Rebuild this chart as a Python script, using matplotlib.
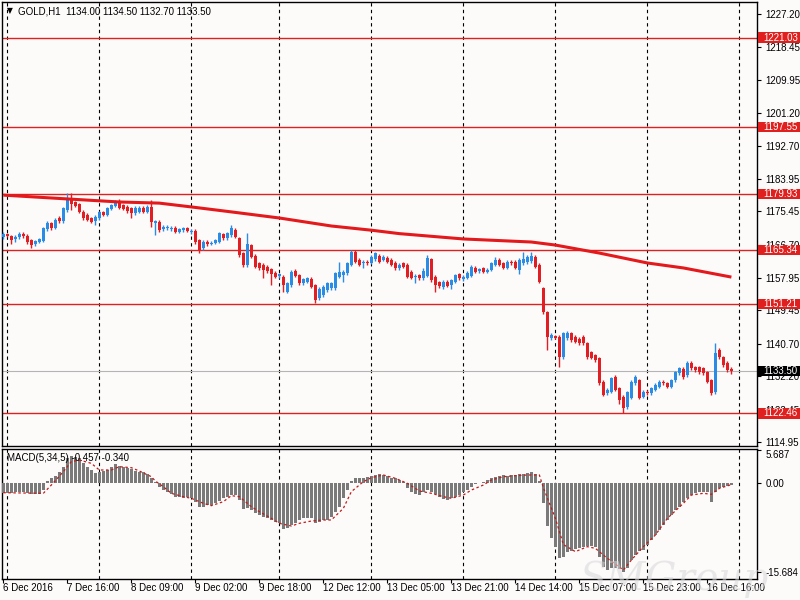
import matplotlib
matplotlib.use("Agg")
import matplotlib.pyplot as plt
import matplotlib.transforms as mtransforms
from matplotlib.patches import Rectangle
import numpy as np

plt.rcParams['font.family'] = ['Liberation Sans', 'DejaVu Sans']

# GOLD H1 candles (bar 0 = 6 Dec 23:00 ... bar 182 = 16 Dec 22:00)
opens = [
    1168.8, 1169.4, 1169.0, 1168.1, 1168.6, 1169.5, 1169.0, 1167.9, 1166.8, 1167.5,
    1167.7, 1170.7, 1172.3, 1171.0, 1173.8, 1172.9, 1175.8, 1178.9, 1177.8, 1177.3,
    1175.4, 1174.5, 1173.6, 1172.9, 1173.6, 1175.2, 1174.6, 1176.0, 1176.9, 1178.0,
    1177.1, 1176.6, 1176.2, 1174.9, 1175.4, 1176.4, 1175.4, 1176.6, 1172.3, 1172.7,
    1170.7, 1171.0, 1170.8, 1171.2, 1170.1, 1170.5, 1171.0, 1170.1, 1170.4, 1167.9,
    1165.7, 1167.5, 1166.9, 1167.2, 1167.5, 1169.4, 1168.4, 1169.2, 1170.5, 1168.4,
    1164.4, 1161.4, 1166.6, 1163.8, 1161.8, 1161.5, 1160.9, 1160.3, 1159.4, 1158.5,
    1158.3, 1154.4, 1156.1, 1159.8, 1158.7, 1156.6, 1157.0, 1157.7, 1156.1, 1152.6,
    1153.5, 1154.8, 1155.3, 1155.3, 1158.3, 1158.7, 1159.2, 1161.5, 1164.9, 1162.7,
    1161.8, 1162.2, 1162.0, 1162.9, 1163.8, 1162.7, 1163.3, 1162.7, 1162.0, 1160.5,
    1161.8, 1161.5, 1159.6, 1158.2, 1158.7, 1157.9, 1158.6, 1162.9, 1158.3, 1156.8,
    1155.7, 1157.0, 1156.1, 1157.0, 1158.9, 1157.6, 1158.0, 1158.5, 1160.6, 1159.8,
    1160.5, 1159.6, 1160.1, 1161.4, 1162.7, 1161.8, 1160.6, 1162.2, 1162.2, 1160.1,
    1161.8, 1162.1, 1162.4, 1163.6, 1161.4, 1155.3, 1149.0, 1142.2, 1142.7, 1142.5,
    1137.2, 1142.2, 1143.5, 1142.5, 1142.0, 1142.5, 1140.9, 1138.5, 1137.7, 1136.9,
    1130.7, 1127.8, 1128.1, 1132.0, 1129.1, 1126.8, 1124.1, 1126.5, 1130.4, 1131.2,
    1126.8, 1128.1, 1127.8, 1128.6, 1129.4, 1130.7, 1130.4, 1129.4, 1131.2, 1133.0,
    1134.1, 1132.5, 1135.7, 1134.6, 1134.6, 1134.3, 1133.3, 1131.2, 1128.0, 1139.1,
    1137.2, 1135.7, 1134.0]
highs = [
    1170.0, 1169.8, 1169.3, 1169.2, 1170.0, 1169.9, 1169.4, 1168.2, 1168.0, 1168.5,
    1171.4, 1172.8, 1172.7, 1173.6, 1174.2, 1176.6, 1180.2, 1180.2, 1178.2, 1177.7,
    1175.8, 1174.9, 1174.0, 1174.4, 1175.6, 1175.6, 1176.6, 1177.5, 1178.5, 1178.6,
    1177.5, 1177.0, 1176.6, 1176.8, 1176.8, 1176.8, 1177.0, 1178.4, 1173.3, 1173.1,
    1171.8, 1171.8, 1171.6, 1171.6, 1171.2, 1171.4, 1171.4, 1170.8, 1170.8, 1168.3,
    1167.9, 1167.9, 1167.6, 1168.3, 1170.1, 1169.8, 1170.1, 1171.9, 1171.0, 1168.8,
    1164.8, 1169.7, 1167.0, 1164.2, 1162.2, 1161.9, 1161.3, 1160.7, 1159.8, 1159.3,
    1158.7, 1157.0, 1160.0, 1160.2, 1159.1, 1158.0, 1158.3, 1158.1, 1156.5, 1155.6,
    1156.1, 1157.0, 1157.0, 1159.6, 1162.2, 1160.0, 1162.2, 1165.3, 1165.3, 1163.1,
    1162.6, 1162.6, 1164.0, 1164.9, 1164.2, 1164.0, 1163.7, 1163.1, 1162.4, 1161.9,
    1162.2, 1161.9, 1160.0, 1159.0, 1159.1, 1160.6, 1164.0, 1163.3, 1158.7, 1157.2,
    1157.4, 1157.4, 1157.8, 1159.1, 1159.3, 1158.7, 1159.8, 1161.3, 1161.0, 1160.6,
    1160.9, 1160.5, 1162.2, 1163.6, 1163.1, 1162.2, 1162.6, 1162.6, 1162.6, 1163.1,
    1164.9, 1164.0, 1164.7, 1164.0, 1161.8, 1155.7, 1149.4, 1143.5, 1143.1, 1142.9,
    1143.9, 1144.0, 1143.9, 1142.9, 1142.4, 1142.9, 1141.3, 1138.9, 1138.1, 1137.3,
    1131.1, 1129.0, 1132.1, 1132.4, 1129.5, 1127.2, 1128.4, 1131.1, 1132.4, 1131.6,
    1128.5, 1128.5, 1129.5, 1130.3, 1131.1, 1131.1, 1130.8, 1131.6, 1133.7, 1134.7,
    1134.5, 1136.1, 1136.1, 1135.0, 1135.0, 1134.7, 1133.7, 1131.6, 1140.9, 1139.5,
    1137.6, 1136.1, 1134.5]
lows = [
    1168.3, 1168.6, 1167.0, 1167.4, 1168.2, 1168.5, 1167.0, 1165.7, 1166.3, 1167.2,
    1167.3, 1170.3, 1170.6, 1170.7, 1172.5, 1172.5, 1175.4, 1175.8, 1176.5, 1175.0,
    1173.2, 1172.8, 1172.3, 1171.9, 1173.2, 1174.1, 1174.2, 1175.7, 1176.6, 1176.0,
    1175.7, 1175.1, 1173.6, 1174.5, 1175.0, 1175.0, 1175.0, 1171.4, 1169.2, 1170.1,
    1170.3, 1170.5, 1170.4, 1169.7, 1169.7, 1170.1, 1169.9, 1169.6, 1167.0, 1164.6,
    1165.3, 1166.4, 1166.5, 1166.8, 1167.1, 1168.0, 1168.0, 1168.8, 1168.4, 1163.6,
    1160.9, 1160.9, 1163.1, 1160.5, 1160.1, 1157.9, 1159.4, 1156.1, 1157.9, 1158.0,
    1154.4, 1154.0, 1155.7, 1158.2, 1156.2, 1156.2, 1156.6, 1155.3, 1151.3, 1152.2,
    1153.1, 1154.4, 1154.9, 1154.9, 1157.9, 1157.0, 1158.8, 1161.1, 1161.8, 1161.0,
    1160.6, 1161.4, 1161.6, 1162.5, 1161.8, 1162.3, 1161.8, 1161.0, 1160.1, 1160.1,
    1160.5, 1157.9, 1157.6, 1156.6, 1157.5, 1157.5, 1158.2, 1157.0, 1154.4, 1155.4,
    1155.1, 1155.5, 1155.1, 1156.6, 1157.5, 1157.2, 1157.6, 1158.1, 1159.2, 1159.4,
    1159.2, 1159.2, 1159.7, 1161.0, 1161.0, 1160.2, 1160.2, 1161.4, 1160.2, 1158.9,
    1161.4, 1161.7, 1162.0, 1160.5, 1156.6, 1148.6, 1139.1, 1141.7, 1141.9, 1134.6,
    1136.8, 1141.8, 1141.3, 1140.8, 1140.5, 1140.5, 1136.8, 1136.6, 1136.0, 1130.0,
    1126.9, 1127.4, 1127.7, 1128.2, 1125.0, 1122.5, 1123.7, 1126.1, 1130.0, 1126.1,
    1126.4, 1127.3, 1127.4, 1128.2, 1129.0, 1130.0, 1129.0, 1129.0, 1130.8, 1132.6,
    1131.6, 1132.1, 1133.9, 1133.4, 1132.9, 1132.6, 1130.3, 1127.4, 1127.6, 1136.8,
    1134.7, 1133.4, 1132.7]
closes = [
    1169.5, 1169.0, 1167.9, 1168.8, 1169.5, 1168.9, 1167.5, 1166.6, 1167.6, 1168.1,
    1171.0, 1172.3, 1171.0, 1173.2, 1172.9, 1176.2, 1178.4, 1177.5, 1176.9, 1175.4,
    1173.6, 1173.2, 1172.7, 1174.0, 1175.2, 1174.5, 1176.2, 1177.1, 1178.0, 1176.4,
    1176.0, 1175.5, 1174.9, 1176.4, 1176.4, 1175.4, 1176.6, 1172.7, 1172.9, 1170.5,
    1171.4, 1171.3, 1171.1, 1170.1, 1170.8, 1171.0, 1170.3, 1170.4, 1167.5, 1165.3,
    1167.5, 1166.8, 1167.2, 1167.9, 1169.7, 1168.4, 1169.7, 1171.0, 1168.8, 1164.0,
    1161.4, 1166.8, 1163.5, 1160.9, 1160.5, 1160.0, 1159.8, 1158.9, 1158.3, 1158.9,
    1156.1, 1156.6, 1159.6, 1158.6, 1156.6, 1157.6, 1157.9, 1155.7, 1152.2, 1155.2,
    1155.7, 1156.6, 1156.6, 1159.2, 1159.6, 1159.6, 1161.8, 1164.9, 1162.2, 1161.4,
    1162.2, 1161.8, 1163.6, 1164.4, 1162.2, 1163.6, 1162.2, 1161.4, 1160.5, 1161.5,
    1160.9, 1158.3, 1158.0, 1158.6, 1157.9, 1159.8, 1163.3, 1157.4, 1156.1, 1155.8,
    1157.0, 1155.9, 1157.4, 1158.7, 1157.9, 1158.3, 1159.4, 1160.9, 1159.6, 1160.2,
    1159.6, 1160.1, 1161.8, 1162.7, 1161.4, 1160.6, 1162.2, 1161.8, 1160.6, 1162.7,
    1162.9, 1163.6, 1163.8, 1160.9, 1157.0, 1149.0, 1142.5, 1143.0, 1142.3, 1137.2,
    1143.5, 1143.5, 1141.7, 1141.2, 1140.9, 1140.9, 1137.2, 1137.0, 1136.4, 1130.4,
    1127.3, 1128.6, 1131.7, 1128.6, 1126.0, 1123.9, 1128.0, 1130.7, 1132.0, 1126.5,
    1128.1, 1127.7, 1129.1, 1129.9, 1130.7, 1130.4, 1129.4, 1131.2, 1133.3, 1134.3,
    1132.0, 1135.7, 1134.3, 1133.8, 1133.3, 1133.0, 1130.7, 1127.8, 1138.3, 1137.2,
    1135.1, 1133.8, 1133.5]

# moving average (red line), read at a few bars
ma_bar = [0, 16, 29, 39, 47, 57, 69, 82, 92, 99, 115, 132, 138, 149, 161, 170, 182]
ma_val = [1179.7, 1178.7, 1177.9, 1177.6, 1176.6, 1175.3, 1173.7, 1171.6, 1170.5,
          1169.6, 1168.2, 1167.4, 1166.6, 1164.5, 1161.9, 1160.6, 1158.2]

# horizontal levels
levels = [1221.03, 1197.55, 1179.93, 1165.34, 1151.21, 1122.46]
last_price = 1133.50
price_ticks = [1227.20, 1218.45, 1209.95, 1201.20, 1192.70, 1183.95, 1175.45,
               1166.70, 1157.95, 1149.45, 1140.70, 1132.20, 1123.45, 1114.95]

# MACD(5,34,5) histogram
macd = [
    -1.76, -1.87, -1.76, -1.58, -1.58, -1.70, -1.76, -1.93, -1.99, -1.93,
    -1.29, 0.36, 0.77, 1.24, 1.94, 2.82, 4.29, 4.76, 4.59, 4.29,
    3.41, 2.82, 2.24, 1.65, 1.94, 2.06, 2.24, 2.82, 3.24, 3.00,
    2.82, 2.65, 2.41, 2.06, 1.94, 1.83, 1.47, 0.77, 0.18, -0.70,
    -1.29, -1.58, -2.05, -2.46, -2.46, -2.64, -2.46, -2.75, -3.34, -4.22,
    -4.22, -3.93, -3.93, -3.63, -3.22, -2.75, -2.46, -2.17, -2.17, -3.05,
    -4.69, -4.52, -4.81, -5.40, -5.69, -5.99, -6.28, -6.58, -6.87, -7.16,
    -8.21, -7.92, -7.45, -7.16, -6.58, -6.28, -6.28, -6.28, -7.16, -6.98,
    -6.58, -6.58, -5.99, -5.10, -4.22, -2.75, -1.29, 0.30, 0.89, 0.89,
    0.89, 0.95, 1.18, 1.36, 1.47, 1.36, 1.24, 0.89, 0.77, 0.48,
    0.18, -0.88, -1.58, -2.05, -2.17, -1.58, -1.29, -1.58, -2.05, -2.46,
    -2.93, -3.05, -2.75, -2.46, -2.17, -1.58, -1.29, -0.70, -0.29, -0.12,
    0.18, 0.48, 0.77, 1.06, 1.24, 1.36, 1.24, 1.36, 1.36, 1.47,
    1.47, 1.65, 1.83, 1.47, 0.30, -3.64, -7.57, -9.80, -11.27, -13.33,
    -13.03, -12.27, -12.04, -11.68, -11.45, -11.27, -11.15, -11.09, -11.27, -13.03,
    -14.79, -15.40, -15.09, -14.97, -15.20, -15.68, -15.09, -13.62, -12.74, -12.04,
    -11.86, -10.98, -10.10, -9.21, -8.33, -7.45, -6.57, -5.69, -4.81, -4.22,
    -3.46, -2.75, -2.17, -1.87, -1.70, -1.58, -1.70, -3.46, -1.58, -1.00,
    -0.70, -0.50, -0.457]
sig_bar = [0, 10, 12, 15, 17, 19, 22, 24, 27, 29, 32, 34, 37, 38, 40, 42, 45, 47,
           50, 52, 55, 57, 59, 62, 64, 67, 69, 72, 74, 77, 80, 82, 85, 87, 90, 92,
           95, 98, 101, 104, 107, 110, 112, 115, 117, 120, 122, 125, 128, 131, 134,
           135, 138, 140, 143, 146, 148, 151, 155, 157, 160, 163, 166, 170, 172,
           175, 177, 179, 182]
sig_val = [-1.76, -1.87, -0.41, 1.94, 3.71, 4.00, 3.41, 2.24, 2.24, 2.82, 2.65, 2.06,
           1.06, 0.30, -0.70, -1.87, -2.46, -2.75, -3.63, -4.05, -3.34, -2.28, -2.46,
           -4.22, -5.10, -6.28, -7.16, -7.63, -7.16, -6.75, -6.57, -6.57, -4.52, -1.58,
           0.18, 0.89, 1.36, 0.77, -0.11, -1.46, -1.87, -2.46, -2.75, -2.17, -1.29,
           -0.41, 0.48, 1.06, 1.24, 1.36, 1.36, -0.90, -6.28, -10.90, -12.15, -11.27,
           -11.57, -13.33, -15.38, -13.62, -11.27, -9.21, -6.28, -3.63, -2.17, -1.87,
           -2.05, -0.99, -0.34]
macd_ticks = [5.687, 0.0, -15.684]

day_bars = [1, 24, 47, 69, 92, 115, 138, 161, 184]
label_bars = [0, 16, 32, 48, 64, 80, 96, 112, 128, 144, 160, 176]
label_text = ['6 Dec 2016', '7 Dec 16:00', '8 Dec 09:00', '9 Dec 02:00', '9 Dec 18:00',
              '12 Dec 12:00', '13 Dec 05:00', '13 Dec 21:00', '14 Dec 14:00',
              '15 Dec 07:00', '15 Dec 23:00', '16 Dec 16:00']

bg = '#FDFAFA'
bull = '#2B8CE6'
bear = '#E01E24'
lvl_red = '#E0201E'

W = 755  # panel width in px
fig = plt.figure(figsize=(8, 6), dpi=100, facecolor=bg)
ax = fig.add_axes([2 / 800, 1 - 446 / 600, W / 800, 444 / 600], facecolor=bg)
ax2 = fig.add_axes([2 / 800, 1 - 579 / 600, W / 800, 130 / 600], facecolor=bg, sharex=ax)

x = np.arange(len(closes))
o = np.array(opens)
c = np.array(closes)
up = c >= o
cols = np.where(up, bull, bear)

for a in (ax, ax2):
    for d in day_bars:
        a.axvline(d, color='black', lw=0.8, ls=(0, (3, 3)), zorder=1)

for lv in levels:
    ax.axhline(lv, color=lvl_red, lw=1.0, zorder=2)
ax.axhline(last_price, color='#B4B4B4', lw=0.8, zorder=2)

ax.vlines(x, lows, highs, colors=cols, lw=1.0, zorder=3)
body_h = np.maximum(np.abs(c - o), 0.25)
ax.bar(x, body_h, bottom=np.minimum(o, c), width=0.62, color=cols, lw=0, zorder=4)

ax.plot(ma_bar, ma_val, color='#E3191C', lw=2.2, zorder=5, solid_capstyle='butt')

ax.set_xlim(-0.33, 188.4)
ax.set_ylim(1113.9, 1230.35)
ax.yaxis.tick_right()
ax.set_yticks(price_ticks)
ax.set_yticklabels(['%.2f' % t for t in price_ticks])
ax.tick_params(axis='y', labelsize=7, length=3, pad=3, direction='out')
ax.tick_params(axis='x', bottom=False, labelbottom=False)

# price tags on the right scale
tr = mtransforms.blended_transform_factory(ax.transAxes, ax.transData)
half = 5.2 * (1230.35 - 1113.9) / 444
for lv, fc in [(v, lvl_red) for v in levels] + [(last_price, 'black')]:
    ax.add_patch(Rectangle((1.0 + 1 / W, lv - half), 44 / W, 2 * half, transform=tr,
                           fc=fc, ec='none', zorder=9, clip_on=False))
    ax.text(1.0 + 6 / W, lv, '%.2f' % lv, transform=tr, ha='left', va='center',
            fontsize=7, color='white', zorder=10, clip_on=False)

ax.text(5 / W, 1 - 9 / 444, '\u25bc', transform=ax.transAxes, fontsize=5.5,
        ha='left', va='center', family=['DejaVu Sans'])
ax.text(16 / W, 1 - 9 / 444, 'GOLD,H1  1134.00 1134.50 1132.70 1133.50',
        transform=ax.transAxes, fontsize=7, ha='left', va='center')

# MACD panel
ax2.bar(x, macd, width=0.66, color='#7A7A7A', lw=0, zorder=3)
ax2.plot(sig_bar, sig_val, color='#C41A1A', lw=0.9, ls=(0, (2, 2)), zorder=4)
ax2.set_ylim(-16.97, 5.94)
ax2.yaxis.tick_right()
ax2.set_yticks(macd_ticks)
ax2.set_yticklabels(['5.687', '0.00', '-15.684'])
ax2.tick_params(axis='y', labelsize=7, length=3, pad=3, direction='out')
for lab in ax2.get_yticklabels():
    if lab.get_text() == '5.687':
        lab.set_verticalalignment('top')
ax2.text(5 / W, 1 - 9 / 130, 'MACD(5,34,5) -0.457 -0.340', transform=ax2.transAxes,
         fontsize=7, ha='left', va='center')

ax2.set_xticks(label_bars)
ax2.set_xticklabels([])
ax2.tick_params(axis='x', length=3, direction='out', color='black')
trx = mtransforms.blended_transform_factory(ax2.transData, ax2.transAxes)
for b, t in zip(label_bars, label_text):
    ax2.text(b - 0.2, -9 / 130, t, transform=trx, ha='left', va='center', fontsize=7,
             clip_on=False)

for a in (ax, ax2):
    for s in a.spines.values():
        s.set_color('black')
        s.set_linewidth(1.0)

fig.text(0.725, 0.004, 'SMGroup', fontsize=28, style='italic', family='DejaVu Serif',
         color='#D8D8D8', alpha=0.55, ha='left', va='bottom', zorder=20)

fig.savefig('out.png', dpi=100, facecolor=bg)
